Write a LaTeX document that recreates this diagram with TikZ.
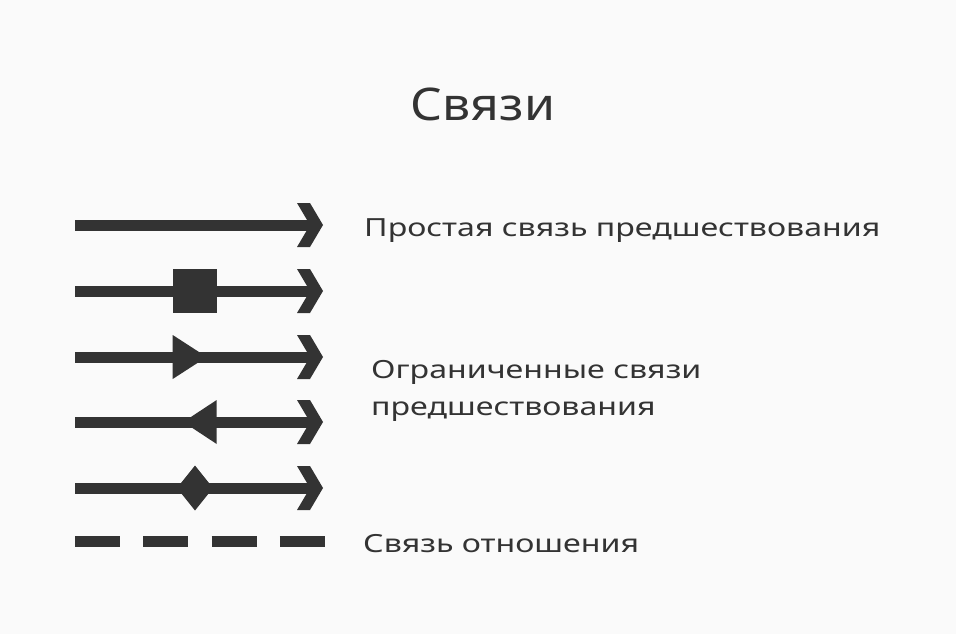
\documentclass[tikz,border=0pt]{standalone}
\usepackage{fontspec}
\setmainfont{Noto Sans}
\newfontfamily\lblfont[FakeStretch=1.285]{Noto Sans}
\newfontfamily\ttlfont[FakeStretch=1.11]{Noto Sans}
\usetikzlibrary{calc}
\definecolor{ink}{HTML}{333333}
\definecolor{bg}{HTML}{FAFAFA}
\tikzset{
  link/.style={line width=11pt, draw=ink},
  lbl/.style={anchor=base west, inner sep=0pt, text=ink, font=\lblfont\fontsize{25}{37}\selectfont, align=left},
  ttl/.style={anchor=base, inner sep=0pt, text=ink, font=\ttlfont\fontsize{45}{50}\selectfont},
}
\newcommand{\chev}[1]{\fill[ink] ($(#1)+(-26,-22)$) -- ++(13,0) -- ($(#1)$) -- ++(-13,22) -- ++(-13,0) -- ++(13,-22) -- cycle;}
\begin{document}
\begin{tikzpicture}[x=1pt,y=-1pt]
\fill[bg] (0,0) rectangle (956,634);
\useasboundingbox (0,0) rectangle (956,634);
\node[ttl] (title) at (483,120) {Связи};
% row 1
\coordinate (a1) at (75,225); \coordinate (b1) at (323,225);
\draw[link] (a1) -- ($(b1)+(-8,0)$);
\chev{b1}
% row 2
\coordinate (a2) at (75,291); \coordinate (b2) at (323,291);
\draw[link] (a2) -- ($(b2)+(-8,0)$);
\chev{b2}
\fill[ink] (172.7,269) rectangle (216.7,313);
% row 3
\coordinate (a3) at (75,357); \coordinate (b3) at (323,357);
\draw[link] (a3) -- ($(b3)+(-8,0)$);
\chev{b3}
\fill[ink] (172.7,335) -- (206.7,357) -- (172.7,379) -- cycle;
% row 4
\coordinate (a4) at (75,422); \coordinate (b4) at (323,422);
\draw[link] (a4) -- ($(b4)+(-8,0)$);
\chev{b4}
\fill[ink] (216.7,400) -- (183.3,422) -- (216.7,444) -- cycle;
% row 5
\coordinate (a5) at (75,488); \coordinate (b5) at (323,488);
\draw[link] (a5) -- ($(b5)+(-8,0)$);
\chev{b5}
\fill[ink] (195,465.5) -- (213,488) -- (195,510.5) -- (177,488) -- cycle;
% row 6 dashed
\coordinate (a6) at (75,541); \coordinate (b6) at (325,541);
\draw[link, dash pattern=on 45pt off 23.3pt] (a6) -- (b6);
% labels
\node[lbl] (l1) at (364,236) {Простая связь предшествования};
\node[lbl] (l2) at (371,415) {Ограниченные связи\\предшествования};
\node[lbl] (l3) at (363,552) {Связь отношения};
\end{tikzpicture}
\end{document}
